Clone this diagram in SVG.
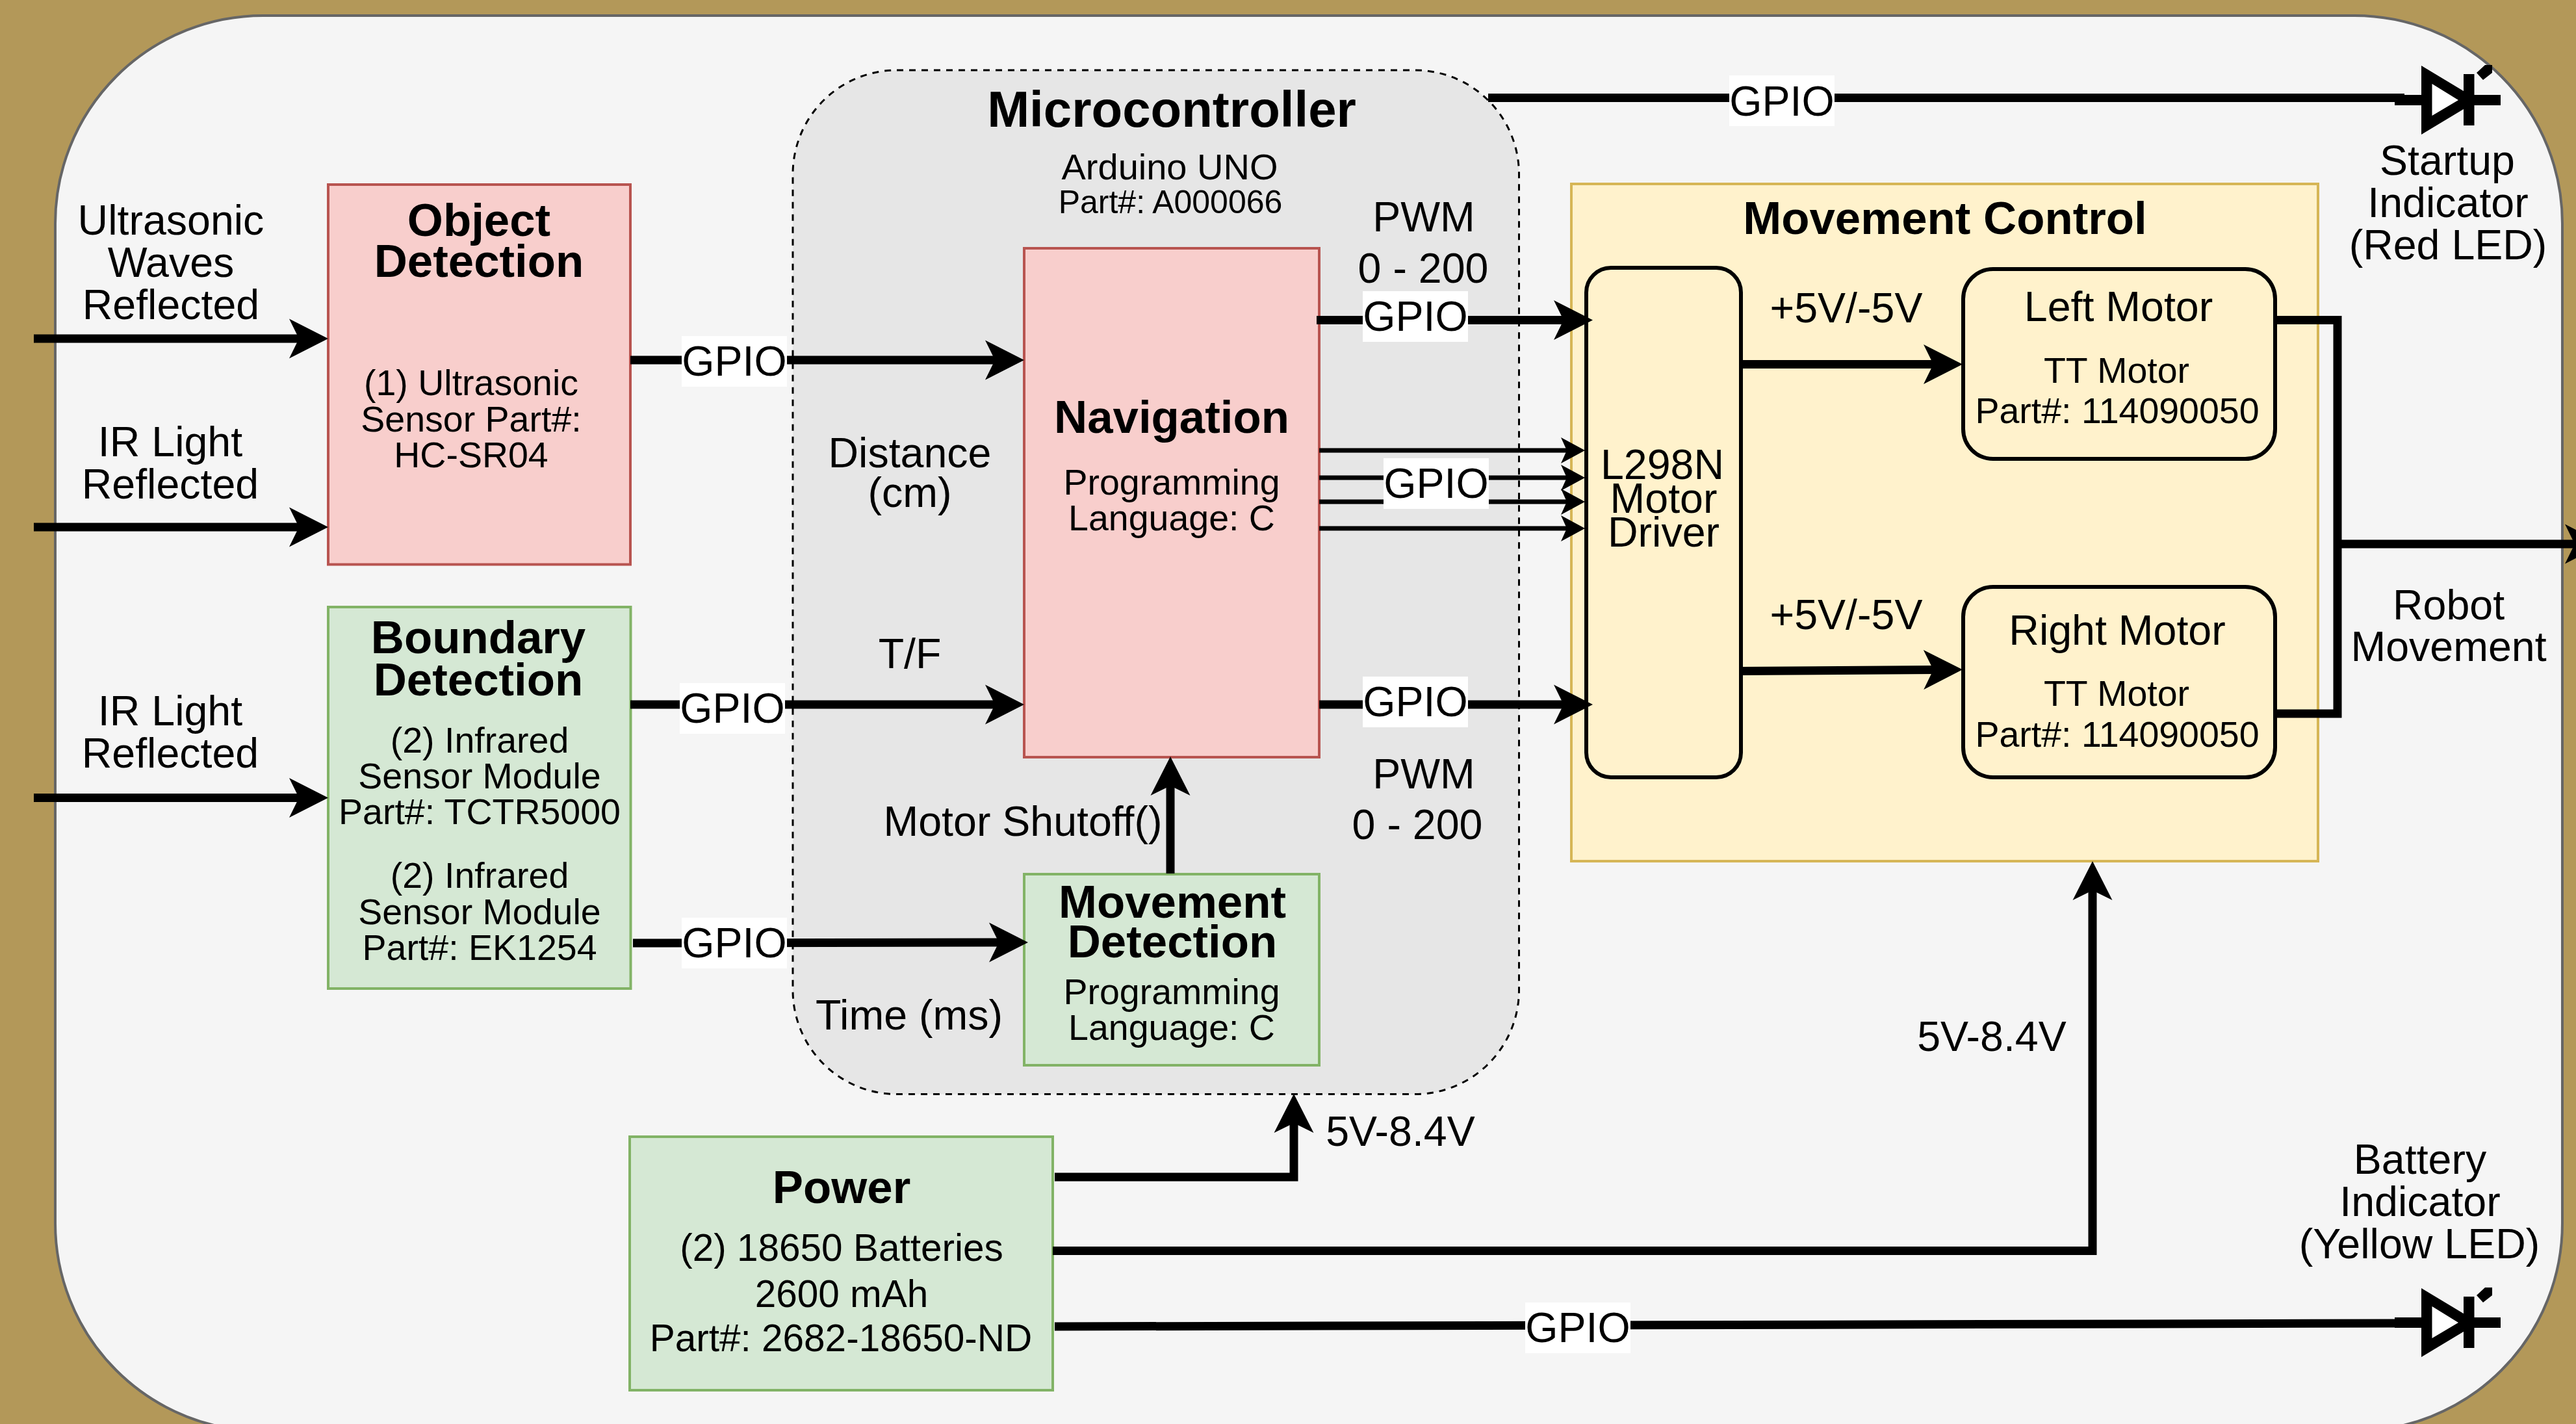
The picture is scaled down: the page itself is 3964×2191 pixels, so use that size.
<svg xmlns="http://www.w3.org/2000/svg" xmlns:xlink="http://www.w3.org/1999/xlink" width="3964" height="2191" viewBox="0 0 3964 2191">
<style>
text{font-family:"Liberation Sans",Arial,sans-serif;text-anchor:middle;fill:#000}
.t64{font-size:64.500px}.t55{font-size:55.500px}.t58{font-size:58.500px}.t49{font-size:50px}.t56{font-size:56px}
.b70{font-size:70.800px;font-weight:700}.b77{font-size:78px;font-weight:700}
.red{fill:#f8cecc;stroke:#b85450;stroke-width:4}
.green{fill:#d5e8d4;stroke:#82b366;stroke-width:4}
.yellow{fill:#fff2cc;stroke:#d6b656;stroke-width:4}
.inner{fill:#fff2cc;stroke:#000;stroke-width:6}
.w{fill:none;stroke:#000;stroke-width:13;stroke-linejoin:miter}
.a{marker-end:url(#big)}
.s{fill:none;stroke:#000;stroke-width:7;marker-end:url(#small)}
.lab{fill:#fff}
</style>
<defs>
<marker id="big" markerUnits="userSpaceOnUse" markerWidth="61" markerHeight="61" refX="15" refY="30.500" orient="auto" overflow="visible"><path d="M0,0L60,30.500L0,61L15,30.500Z" fill="#000"/></marker>
<marker id="small" markerUnits="userSpaceOnUse" markerWidth="37" markerHeight="40" refX="9" refY="20" orient="auto" overflow="visible"><path d="M0,0L37,20L0,40L9,20Z" fill="#000"/></marker>
<g id="led">
<rect x="3685" y="146" width="163" height="16" fill="#000"/>
<path d="M3726,101L3814,154L3726,207Z" fill="#000"/>
<path d="M3742.5,129L3783,154L3742.5,178Z" fill="#fff"/>
<rect x="3791" y="114" width="16.500" height="79" fill="#000"/>
<path d="M3811,112L3824,100L3835,100L3835,112L3821,123Z" fill="#000"/>
</g>
</defs>
<rect id="page" width="3964" height="2191" fill="#b39859"/>
<rect id="board" x="85" y="24" width="3858" height="2178" rx="320" ry="320" fill="#f5f5f5" stroke="#666" stroke-width="4"/>

<g id="microcontroller">
<rect x="1220" y="108" width="1117.500" height="1575.500" rx="160" ry="160" fill="#e6e6e6" stroke="#000" stroke-width="3" stroke-dasharray="10 9"/>
<text class="b77" x="1803" y="195">Microcontroller</text>
<text class="t56" x="1800" y="276">Arduino UNO</text>
<text class="t49" x="1801" y="328">Part#: A000066</text>
</g>
<g id="movement-control">
<rect class="yellow" x="2418" y="283" width="1149" height="1042"/>
<text class="b70" x="2993" y="360">Movement Control</text>
</g>
<g id="object-detection">
<rect class="red" x="505" y="284" width="465" height="584.500"/>
<text class="b70" x="737" y="363">Object</text>
<text class="b70" x="737" y="426">Detection</text>
<text class="t55" x="725" y="608">(1) Ultrasonic</text>
<text class="t55" x="725" y="664">Sensor Part#:</text>
<text class="t55" x="725" y="719">HC-SR04</text>
</g>
<g id="boundary-detection">
<rect class="green" x="505" y="934" width="465.500" height="587"/>
<text class="b70" x="736" y="1005">Boundary</text>
<text class="b70" x="736" y="1070">Detection</text>
<text class="t55" x="738" y="1158">(2) Infrared</text>
<text class="t55" x="738" y="1213">Sensor Module</text>
<text class="t55" x="738" y="1268">Part#: TCTR5000</text>
<text class="t55" x="738" y="1366">(2) Infrared</text>
<text class="t55" x="738" y="1422">Sensor Module</text>
<text class="t55" x="738" y="1477">Part#: EK1254</text>
</g>
<g id="navigation">
<rect class="red" x="1576" y="382" width="454" height="783"/>
<text class="b70" x="1803" y="666">Navigation</text>
<text class="t55" x="1803" y="761">Programming</text>
<text class="t55" x="1803" y="816">Language: C</text>
</g>
<g id="movement-detection">
<rect class="green" x="1576" y="1345" width="454" height="294"/>
<text class="b70" x="1804" y="1412">Movement</text>
<text class="b70" x="1804" y="1473">Detection</text>
<text class="t55" x="1803" y="1545">Programming</text>
<text class="t55" x="1803" y="1600">Language: C</text>
</g>
<g id="power">
<rect class="green" x="969" y="1749" width="651" height="390"/>
<text class="b70" x="1295" y="1851">Power</text>
<text class="t58" x="1295" y="1940">(2) 18650 Batteries</text>
<text class="t58" x="1295" y="2011">2600 mAh</text>
<text class="t58" x="1294" y="2079">Part#: 2682-18650-ND</text>
</g>
<g id="l298n">
<rect class="inner" x="2441" y="412" width="238" height="784" rx="38" ry="38"/>
<text class="t64" x="2558" y="737">L298N</text>
<text class="t64" x="2560" y="789">Motor</text>
<text class="t64" x="2560" y="841">Driver</text>
</g>
<g id="left-motor">
<rect class="inner" x="3021" y="414" width="480" height="292" rx="46" ry="46"/>
<text class="t64" x="3260" y="494">Left Motor</text>
<text class="t55" x="3257" y="589">TT Motor</text>
<text class="t55" x="3258" y="651">Part#: 114090050</text>
</g>
<g id="right-motor">
<rect class="inner" x="3021" y="903" width="480" height="293" rx="46" ry="46"/>
<text class="t64" x="3258" y="992">Right Motor</text>
<text class="t55" x="3257" y="1086">TT Motor</text>
<text class="t55" x="3258" y="1149">Part#: 114090050</text>
</g>

<g id="connectors">
<path class="w a" d="M52,521H460"/>
<path class="w a" d="M52,811H460"/>
<path class="w a" d="M52,1227.500H460"/>
<path class="w a" d="M970,554H1531"/>
<path class="w a" d="M970,1084H1531"/>
<path class="w a" d="M974,1451L1537,1450"/>
<path class="w a" d="M2026,492.500H2406"/>
<path class="w a" d="M2030,1084H2406"/>
<path class="s" d="M2030,693H2411"/>
<path class="s" d="M2030,735H2411"/>
<path class="s" d="M2030,772H2411"/>
<path class="s" d="M2030,813H2411"/>
<path class="w" d="M2290,150.500H3700"/>
<path class="w" d="M1623,2041L3700,2036"/>
<path class="w a" d="M1623,1811H1991V1728"/>
<path class="w a" d="M1620,1924.500H3220V1370"/>
<path class="w a" d="M1801,1344V1209"/>
<path class="w a" d="M2681,560.500H2975"/>
<path class="w a" d="M2681,1032.500L2975,1030.500"/>
<path class="w" d="M3500,492.500H3597V1098H3500"/>
<path class="w a" d="M3597,837H3962"/>
<use id="startup-led" href="#led" xlink:href="#led"/>
<use id="battery-led" href="#led" xlink:href="#led" y="1881"/>

<rect class="lab" x="1049" y="517" width="162" height="78"/><text class="t64" x="1130" y="578">GPIO</text>
<rect class="lab" x="1046" y="1051" width="162" height="78"/><text class="t64" x="1127" y="1112">GPIO</text>
<rect class="lab" x="1049" y="1412" width="162" height="78"/><text class="t64" x="1130" y="1473">GPIO</text>
<rect class="lab" x="2097" y="448" width="162" height="78"/><text class="t64" x="2178" y="509">GPIO</text>
<rect class="lab" x="2097" y="1041" width="162" height="78"/><text class="t64" x="2178" y="1102">GPIO</text>
<rect class="lab" x="2129" y="705" width="162" height="78"/><text class="t64" x="2210" y="766">GPIO</text>
<rect class="lab" x="2661" y="116" width="162" height="78"/><text class="t64" x="2742" y="178">GPIO</text>
<rect class="lab" x="2347" y="2004" width="162" height="78"/><text class="t64" x="2428" y="2065">GPIO</text>

<text class="t64" x="263" y="361">Ultrasonic</text>
<text class="t64" x="263" y="426">Waves</text>
<text class="t64" x="263" y="491">Reflected</text>
<text class="t64" x="262" y="702">IR Light</text>
<text class="t64" x="262" y="767">Reflected</text>
<text class="t64" x="262" y="1116">IR Light</text>
<text class="t64" x="262" y="1181">Reflected</text>
<text class="t64" x="2191" y="356">PWM</text>
<text class="t64" x="2190" y="435">0 - 200</text>
<text class="t64" x="2191" y="1213">PWM</text>
<text class="t64" x="2181" y="1291">0 - 200</text>
<text class="t64" x="1400" y="719">Distance</text>
<text class="t64" x="1400" y="780">(cm)</text>
<text class="t64" x="1400" y="1028">T/F</text>
<text class="t64" x="1574" y="1286">Motor Shutoff()</text>
<text class="t64" x="1399" y="1584">Time (ms)</text>
<text class="t64" x="2841" y="496">+5V/-5V</text>
<text class="t64" x="2841" y="968">+5V/-5V</text>
<text class="t64" x="3065" y="1617">5V-8.4V</text>
<text class="t64" x="2155" y="1763">5V-8.4V</text>
<text class="t64" x="3768" y="953">Robot</text>
<text class="t64" x="3768" y="1017">Movement</text>
<text class="t64" x="3766" y="269">Startup</text>
<text class="t64" x="3767" y="334">Indicator</text>
<text class="t64" x="3767" y="399">(Red LED)</text>
<text class="t64" x="3724" y="1806">Battery</text>
<text class="t64" x="3724" y="1871">Indicator</text>
<text class="t64" x="3723" y="1936">(Yellow LED)</text>
</g>
</svg>
